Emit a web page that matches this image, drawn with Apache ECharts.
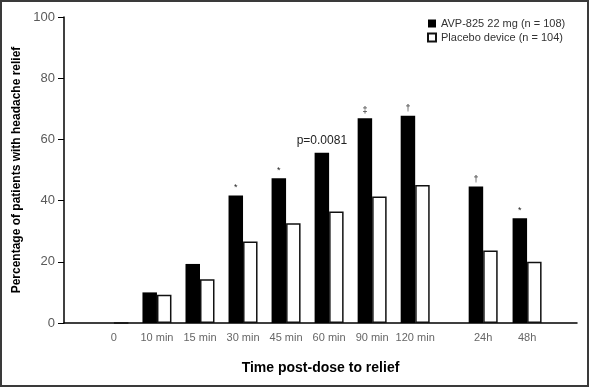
<!DOCTYPE html>
<html>
<head>
<meta charset="utf-8">
<script src="https://cdn.jsdelivr.net/npm/echarts@6/dist/echarts.min.js"></script>
<style>
html,body{margin:0;padding:0;background:#fff;}
#chart{width:590px;height:388px;}
</style>
</head>
<body>
<div id="chart"></div>
<script>
// Time points (categories) and their ordinal slots on the axis (break between 120 min and 24h)
var categories = ['0', '10 min', '15 min', '30 min', '45 min', '60 min', '90 min', '120 min', '24h', '48h'];
var slots = [0, 1, 2, 3, 4, 5, 6, 7, 8.58, 9.6];
// Percentage of patients with headache relief
var avpValues = [0, 10.0, 19.3, 41.7, 47.3, 55.6, 66.9, 67.7, 44.6, 34.2];
var placeboValues = [0, 9.2, 14.3, 26.6, 32.6, 36.4, 41.3, 45.1, 23.7, 20.0];
// Significance annotations above the AVP-825 bars
var sigMarks = ['', '', '', '*', '*', 'p=0.0081', '\u2021', '\u2020', '\u2020', '*'];
var seriesNames = ['AVP-825 22 mg (n = 108)', 'Placebo device (n = 104)'];

function pairs(vals) {
  return vals.map(function (v, i) { return [slots[i], v]; });
}

var chart = echarts.init(document.getElementById('chart'), null, {renderer: 'canvas'});
var font = 'Liberation Sans, Arial, Helvetica, sans-serif';

chart.setOption({
  animation: false,
  backgroundColor: '#fff',
  textStyle: {fontFamily: font},
  graphic: [{
    type: 'rect',
    shape: {x: 1, y: 1, width: 587, height: 385},
    style: {fill: 'none', stroke: '#3a3a3a', lineWidth: 2},
    silent: true
  }],
  grid: {left: 64, right: 13, top: 17, bottom: 65, containLabel: false},
  legend: {
    orient: 'vertical',
    left: 427, top: 18,
    padding: 0,
    itemWidth: 8, itemHeight: 8, itemGap: 3,
    icon: 'rect',
    textStyle: {fontSize: 11, color: '#333', fontFamily: font},
    data: seriesNames
  },
  xAxis: {
    type: 'value',
    min: -1.16, max: 10.76,
    name: 'Time post-dose to relief',
    nameLocation: 'middle',
    nameGap: 38,
    nameTextStyle: {fontSize: 14, fontWeight: 'bold', color: '#000', fontFamily: font},
    axisLine: {show: true, onZero: false, lineStyle: {color: '#000', width: 1.5}},
    axisTick: {show: false},
    splitLine: {show: false},
    axisLabel: {
      customValues: slots,
      margin: 9,
      fontSize: 11,
      color: '#666',
      fontFamily: font,
      formatter: function (v) {
        var i = slots.indexOf(v);
        return i >= 0 ? categories[i] : '';
      }
    }
  },
  yAxis: {
    type: 'value',
    min: 0, max: 100, interval: 20,
    name: 'Percentage of patients with headache relief',
    nameLocation: 'middle',
    nameGap: 34,
    nameTextStyle: {fontSize: 12, fontWeight: 'bold', color: '#000', fontFamily: font},
    axisLine: {show: true, onZero: false, lineStyle: {color: '#000', width: 1.5}},
    axisTick: {show: true, length: 6, lineStyle: {color: '#000', width: 1}},
    splitLine: {show: false},
    axisLabel: {
      margin: 9, fontSize: 13, color: '#5a5a5a', fontFamily: font
    }
  },
  series: [{
    name: seriesNames[0],
    type: 'bar',
    barWidth: 14.5,
    barGap: '0%',
    itemStyle: {color: '#000'},
    label: {
      show: true,
      position: 'top',
      distance: 3,
      color: '#222',
      fontFamily: font,
      formatter: function (p) { return sigMarks[p.dataIndex]; }
    },
    data: pairs(avpValues).map(function (d, i) {
      var big = sigMarks[i].length > 1;
      return {value: d, label: {fontSize: big ? 12 : 9, distance: big ? 6 : 3}};
    })
  }, {
    name: seriesNames[1],
    type: 'bar',
    barWidth: 14.5,
    barGap: '0%',
    itemStyle: {color: '#fff', borderColor: '#111', borderWidth: 1.5},
    data: pairs(placeboValues)
  }]
});
</script>
</body>
</html>
